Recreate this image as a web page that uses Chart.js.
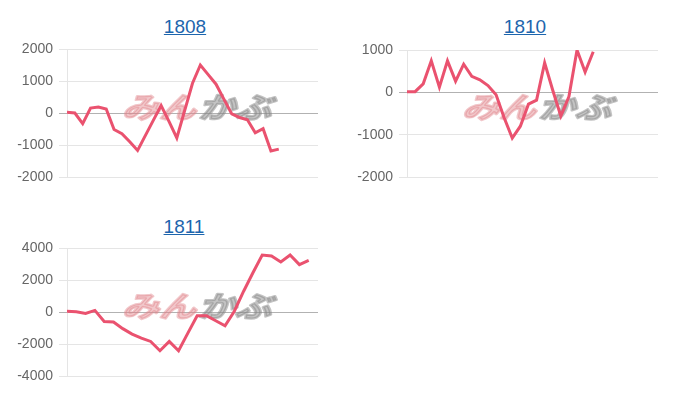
<!DOCTYPE html>
<html>
<head>
<meta charset="utf-8">
<script src="https://cdn.jsdelivr.net/npm/chart.js@4.4.1/dist/chart.umd.min.js"></script>
<style>
  html, body { margin: 0; padding: 0; background: #fff; width: 700px; height: 400px; overflow: hidden; }
  .title { position: absolute; width: 200px; text-align: center; font-family: "Liberation Sans", Arial, sans-serif; font-size: 19px; line-height: 19px; }
  .title a { color: #1d65ad; text-decoration: underline; }
  canvas { position: absolute; }
</style>
</head>
<body>
<div class="title" style="left:85px; top:17px;"><a href="#">1808</a></div>
<div class="title" style="left:425px; top:17px;"><a href="#">1810</a></div>
<div class="title" style="left:84px; top:217px;"><a href="#">1811</a></div>
<canvas id="c1808" width="330" height="152" style="left:0px; top:37px;"></canvas>
<canvas id="c1810" width="330" height="151" style="left:340px; top:38px;"></canvas>
<canvas id="c1811" width="330" height="152" style="left:0px; top:236px;"></canvas>
<script>
// ---- data ----
const labels1808 = ["1","2","3","4","5","6","7","8","9","10","11","12","13","14","15","16","17","18","19","20","21","22","23","24","25","26","27","28","29","30","31","32","33"];
const values1808 = [20, 0, -330, 155, 185, 125, -515, -650, -900, -1170, -700, -230, 235, -260, -780, 75, 930, 1500, 1200, 900, 435, -30, -140, -210, -620, -490, -1190, -1130];
const ticks1808 = { min: -2000, max: 2000, step: 1000 };

const labels1810 = ["1","2","3","4","5","6","7","8","9","10","11","12","13","14","15","16","17","18","19","20","21","22","23","24","25","26","27","28","29","30","31","32"];
const values1810 = [15, 15, 200, 744, 120, 744, 264, 664, 376, 296, 160, -56, -600, -1080, -800, -280, -184, 696, 50, -560, -100, 1000, 480, 960];
const ticks1810 = { min: -2000, max: 1000, step: 1000 };

const labels1811 = ["1","2","3","4","5","6","7","8","9","10","11","12","13","14","15","16","17","18","19","20","21","22","23","24","25","26","27","28"];
const values1811 = [40, 20, -90, 100, -590, -620, -1040, -1380, -1630, -1840, -2420, -1840, -2420, -1320, -230, -230, -545, -860, 50, 1300, 2450, 3560, 3500, 3130, 3560, 2960, 3220];
const ticks1811 = { min: -4000, max: 4000, step: 2000 };

const lineColor = 'rgb(234, 82, 111)';

const watermark = {
  id: 'wm',
  beforeDatasetsDraw(chart) {
    const { ctx, chartArea: a } = chart;
    const cx = (a.left + a.right) / 2 + 8;
    const cy = (a.top + a.bottom) / 2 - 6;
    ctx.save();
    ctx.translate(cx, cy);
    ctx.transform(1.15, 0, -0.3, 0.9, 0, 0);
    ctx.font = 'bold 32px "Noto Sans CJK JP"';
    ctx.textBaseline = 'middle';
    ctx.lineJoin = 'round';
    ctx.lineWidth = 2.5;
    ctx.textAlign = 'right';
    ctx.fillStyle = 'rgba(225, 130, 138, 0.45)';
    ctx.strokeStyle = 'rgba(225, 130, 138, 0.45)';
    ctx.fillText('みん', -1, 0);
    ctx.strokeText('みん', -1, 0);
    ctx.textAlign = 'left';
    ctx.fillStyle = 'rgba(135, 135, 135, 0.5)';
    ctx.strokeStyle = 'rgba(135, 135, 135, 0.5)';
    ctx.fillText('かぶ', 1, 0);
    ctx.strokeText('かぶ', 1, 0);
    ctx.restore();
  }
};

function makeChart(id, labels, values, t) {
  new Chart(document.getElementById(id), {
    type: 'line',
    data: {
      labels: labels,
      datasets: [{
        data: values,
        borderColor: lineColor,
        backgroundColor: lineColor,
        borderWidth: 3,
        pointRadius: 0,
        tension: 0,
        fill: false
      }]
    },
    options: {
      responsive: false,
      animation: false,
      devicePixelRatio: 1,
      layout: { padding: { top: 12, bottom: 12, right: 12, left: 0 } },
      plugins: { legend: { display: false }, tooltip: { enabled: false } },
      scales: {
        x: { display: false },
        y: {
          min: t.min, max: t.max,
          afterFit(scale) { scale.width = 67; scale.paddingTop = 0; scale.paddingBottom = 0; },
          ticks: {
            stepSize: t.step,
            padding: 6,
            color: '#666',
            callback: (v) => String(v),
            font: { family: '"Liberation Sans", Arial, sans-serif', size: 14 }
          },
          grid: {
            color: (c) => (c.tick && c.tick.value === 0) ? 'rgba(0,0,0,0.3)' : 'rgba(0,0,0,0.1)'
          },
          border: { color: 'rgba(0,0,0,0.1)' }
        }
      }
    },
    plugins: [watermark]
  });
}

makeChart('c1808', labels1808, values1808, ticks1808);
makeChart('c1810', labels1810, values1810, ticks1810);
makeChart('c1811', labels1811, values1811, ticks1811);
</script>
</body>
</html>
